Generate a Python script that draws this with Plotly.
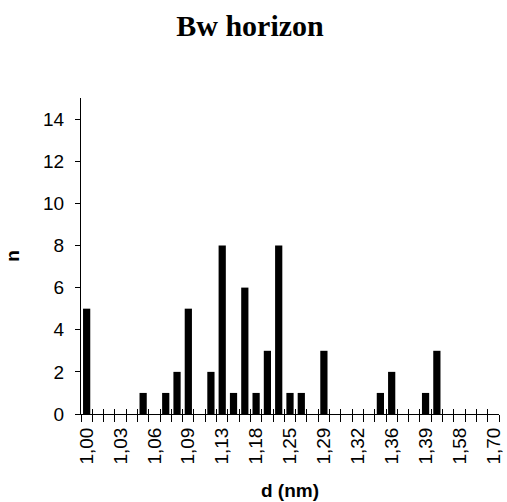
import plotly.graph_objects as go

categories = ["1,00", "1,01", "1,02", "1,03", "1,04", "1,05", "1,06", "1,07", "1,08",
              "1,09", "1,11", "1,12", "1,13", "1,14", "1,16", "1,18", "1,20", "1,23",
              "1,25", "1,26", "1,28", "1,29", "1,30", "1,31", "1,32", "1,33", "1,35",
              "1,36", "1,37", "1,38", "1,39", "1,40", "1,50", "1,58", "1,60", "1,65", "1,70"]
counts = [5, 0, 0, 0, 0, 1, 0, 1, 2,
          5, 0, 2, 8, 1, 6, 1, 3, 8,
          1, 1, 0, 3, 0, 0, 0, 0, 1,
          2, 0, 0, 1, 3, 0, 0, 0, 0, 0]
shown_labels = ["1,00", "1,03", "1,06", "1,09", "1,13", "1,18", "1,25", "1,29",
                "1,32", "1,36", "1,39", "1,58", "1,70"]
y_ticks = [0, 2, 4, 6, 8, 10, 12, 14]

ticktext = [c if c in shown_labels else "" for c in categories]

fig = go.Figure()
fig.add_trace(go.Bar(x=categories, y=counts, marker=dict(color="black", line=dict(width=0)),
                     showlegend=False))
fig.add_trace(go.Scatter(x=categories, y=[0] * len(categories), mode="markers",
                         marker=dict(opacity=0), xaxis="x2", showlegend=False,
                         hoverinfo="skip"))

tickfont = dict(family="Liberation Sans, Arial, sans-serif", size=19, color="black")
fig.update_layout(
    width=507, height=502,
    margin=dict(l=81, r=4, t=98, b=87),
    paper_bgcolor="white", plot_bgcolor="white",
    bargap=0.36,
    title=dict(text="<b>Bw horizon</b>", x=250 / 507, xref="container", y=1 - 25 / 502, yref="container",
               xanchor="center", yanchor="middle",
               font=dict(family="Liberation Serif, Times New Roman, serif", size=30, color="black")),
    xaxis=dict(type="category", categoryorder="array", categoryarray=categories,
               range=[-0.5, len(categories) - 0.5],
               tickmode="array", tickvals=categories, ticktext=ticktext,
               tickson="boundaries", ticks="outside", ticklen=7, tickcolor="black", tickwidth=1,
               tickangle=-90, tickfont=tickfont, ticklabelstandoff=5,
               showline=True, linecolor="black", linewidth=1, showgrid=False, zeroline=False,
               title=dict(text="<b>d (nm)</b>", standoff=20,
                          font=dict(family="Liberation Sans, Arial, sans-serif", size=19, color="black"))),
    xaxis2=dict(type="category", categoryorder="array", categoryarray=categories,
                range=[-0.5, len(categories) - 0.5], overlaying="x", anchor="y",
                tickmode="array", tickvals=categories, ticktext=[""] * len(categories),
                tickson="boundaries", ticks="inside", ticklen=5, tickcolor="black", tickwidth=1,
                showticklabels=False, showline=False, showgrid=False, zeroline=False),
    yaxis=dict(range=[0, 15], tickmode="array", tickvals=y_ticks,
               ticks="outside", ticklen=5, tickcolor="black", tickwidth=1,
               tickfont=tickfont, ticklabelstandoff=7,
               showline=True, linecolor="black", linewidth=1, showgrid=False, zeroline=False,
               title=dict(text="<b>n</b>", standoff=18,
                          font=dict(family="Liberation Sans, Arial, sans-serif", size=19, color="black"))),
)

fig.write_html("out.html")
